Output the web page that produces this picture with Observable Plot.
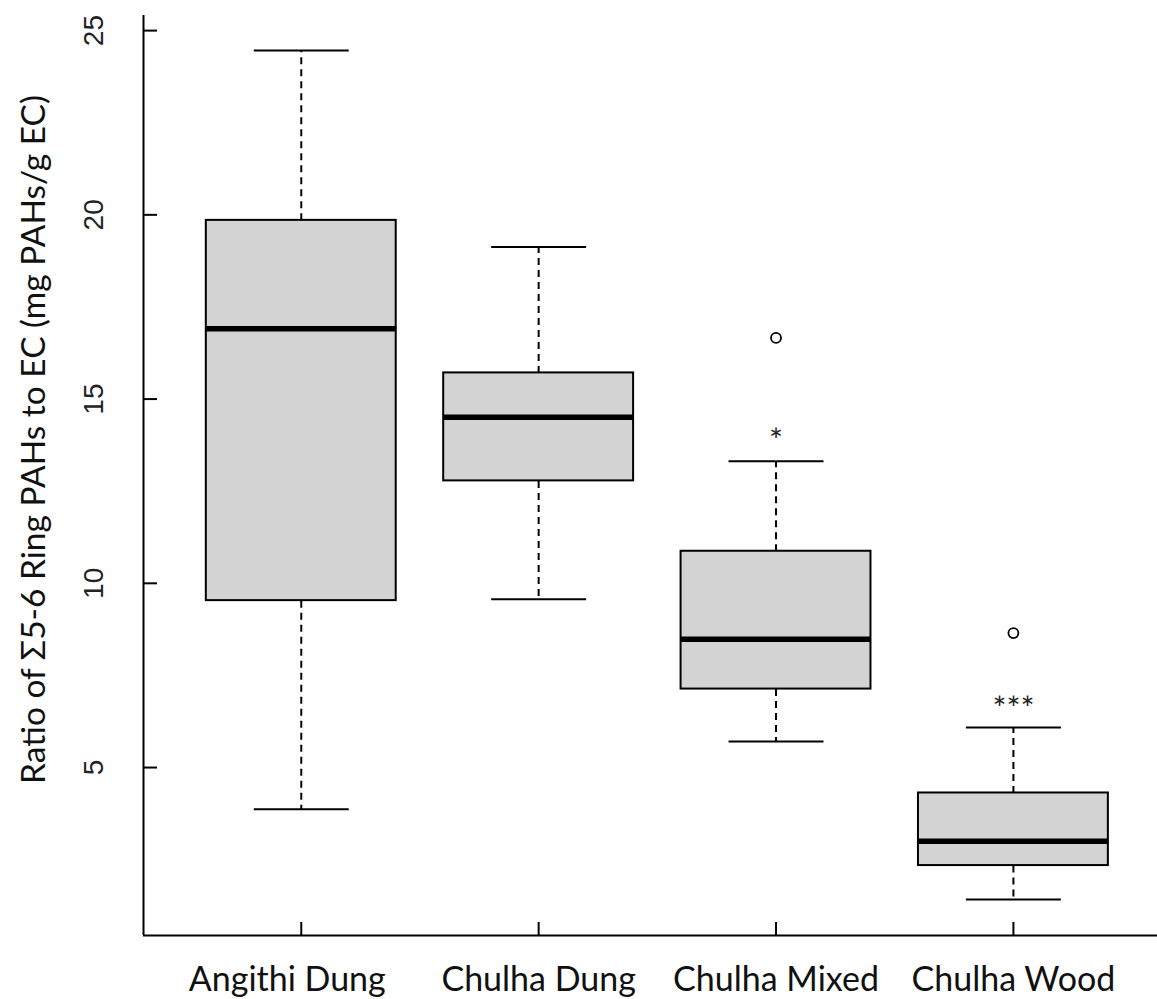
<!DOCTYPE html>
<html>
<head>
<meta charset="utf-8">
<script src="https://cdn.jsdelivr.net/npm/d3@7"></script>
<script src="https://cdn.jsdelivr.net/npm/@observablehq/plot@0.6"></script>
<style>
  html, body { margin: 0; padding: 0; background: #fff; overflow: hidden; }
  #chart svg { display: block; }
</style>
</head>
<body>
<div id="chart"></div>
<script>
// Boxplot summary per stove / fuel type
const categories = ["Angithi Dung", "Chulha Dung", "Chulha Mixed", "Chulha Wood"];
const lowerWhisker = [3.87, 9.57, 5.71, 1.42];
const lowerQuartile = [9.53, 12.78, 7.13, 2.34];
const medians = [16.91, 14.51, 8.48, 3.00];
const upperQuartile = [19.85, 15.71, 10.87, 4.31];
const upperWhisker = [24.46, 19.13, 13.31, 6.09];

// Outlying points
const outlierCategory = ["Chulha Mixed", "Chulha Wood"];
const outlierValue = [16.66, 8.65];

// Significance markers above the whiskers
const markCategory = ["Chulha Mixed", "Chulha Wood"];
const markValue = [14.08, 6.80];
const markLabel = ["*", "***"];

const yTicks = [5, 10, 15, 20, 25];
const yTitle = "Ratio of \u03A35-6 Ring PAHs to EC (mg PAHs/g EC)";

const pos = (name) => categories.indexOf(name) + 1;

const boxes = categories.map((name, i) => ({
  name, pos: i + 1,
  lo: lowerWhisker[i], q1: lowerQuartile[i], med: medians[i],
  q3: upperQuartile[i], hi: upperWhisker[i]
}));
const outliers = outlierCategory.map((c, i) => ({pos: pos(c), value: outlierValue[i]}));
const marks = markCategory.map((c, i) => ({pos: pos(c), value: markValue[i], label: markLabel[i]}));

const width = 1157, height = 999;
const marginLeft = 143, marginRight = 0, marginTop = 15, marginBottom = 64;
const xDomain = [0.3354, 4.607];
const yDomain = [0.442, 25.41];
const frameW = width - marginLeft - marginRight;
const frameH = height - marginTop - marginBottom;
const boxHalf = 0.4, capHalf = 0.2;

const labelFont = "Lato, 'Noto Sans', sans-serif";

const chart = Plot.plot({
  width, height,
  marginLeft, marginRight, marginTop, marginBottom,
  style: {background: "#fff"},
  x: {type: "linear", domain: xDomain, axis: null},
  y: {type: "linear", domain: yDomain, axis: null},
  marks: [
    // whiskers (dashed) from box to whisker end
    Plot.link(boxes, {x1: "pos", x2: "pos", y1: "q3", y2: "hi", stroke: "#000", strokeWidth: 2, strokeDasharray: "7,5"}),
    Plot.link(boxes, {x1: "pos", x2: "pos", y1: "q1", y2: "lo", stroke: "#000", strokeWidth: 2, strokeDasharray: "7,5"}),
    // staples
    Plot.link(boxes, {x1: d => d.pos - capHalf, x2: d => d.pos + capHalf, y1: "hi", y2: "hi", stroke: "#000", strokeWidth: 2}),
    Plot.link(boxes, {x1: d => d.pos - capHalf, x2: d => d.pos + capHalf, y1: "lo", y2: "lo", stroke: "#000", strokeWidth: 2}),
    // boxes
    Plot.rect(boxes, {x1: d => d.pos - boxHalf, x2: d => d.pos + boxHalf, y1: "q1", y2: "q3", fill: "#d3d3d3", stroke: "#000", strokeWidth: 2}),
    // medians
    Plot.link(boxes, {x1: d => d.pos - boxHalf, x2: d => d.pos + boxHalf, y1: "med", y2: "med", stroke: "#000", strokeWidth: 5.5}),
    // outliers
    Plot.dot(outliers, {x: "pos", y: "value", r: 5, stroke: "#000", strokeWidth: 1.8, fill: "none"}),
    // significance asterisks
    Plot.text(marks, {x: "pos", y: "value", text: "label", fontSize: 33, fontFamily: labelFont, fill: "#222", lineAnchor: "bottom", dy: 19}),
    // axes lines (L-shaped frame)
    Plot.ruleX([xDomain[0]], {stroke: "#000", strokeWidth: 2}),
    Plot.ruleY([yDomain[0]], {stroke: "#000", strokeWidth: 2}),
    // inward ticks
    Plot.tickY(yTicks, {y: d => d, stroke: "#000", strokeWidth: 2, insetRight: frameW - 14}),
    Plot.tickX(boxes, {x: "pos", stroke: "#000", strokeWidth: 2, insetTop: frameH - 13}),
    // y tick labels, rotated
    Plot.text(yTicks, {y: d => d, text: d => String(d), frameAnchor: "left", rotate: -90, textAnchor: "middle", lineAnchor: "bottom", dx: -41, fontSize: 28, fontFamily: "'Liberation Sans', Arial, sans-serif", fill: "#222"}),
    // category labels
    Plot.text(boxes.slice(0, 1), {x: "pos", text: "name", frameAnchor: "bottom", lineAnchor: "bottom", dy: 55, dx: -14, fontSize: 34, fontFamily: labelFont, fill: "#111"}),
    Plot.text(boxes.slice(1), {x: "pos", text: "name", frameAnchor: "bottom", lineAnchor: "bottom", dy: 55, fontSize: 34, fontFamily: labelFont, fill: "#111"}),
    // y axis title
    Plot.text([yTitle], {text: d => d, frameAnchor: "left", rotate: -90, textAnchor: "middle", lineAnchor: "bottom", dx: -99, dy: -36, fontSize: 33.5, fontFamily: labelFont, fill: "#111"})
  ]
});

document.getElementById("chart").append(chart);
</script>
</body>
</html>
